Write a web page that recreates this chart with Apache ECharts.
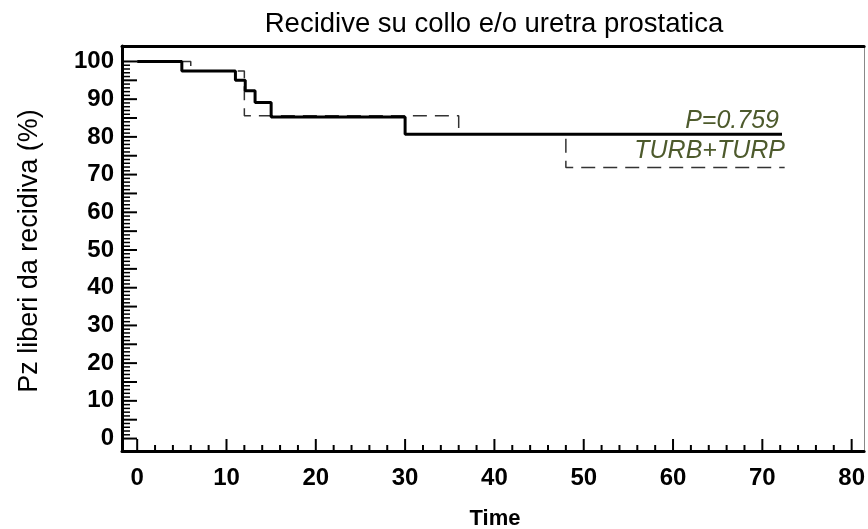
<!DOCTYPE html>
<html>
<head>
<meta charset="utf-8">
<script src="https://cdn.jsdelivr.net/npm/echarts@6/dist/echarts.min.js"></script>
<style>
  html, body { margin: 0; padding: 0; background: #fff; }
  #main { width: 868px; height: 529px; }
</style>
</head>
<body>
<div id="main"></div>
<script>
// Kaplan-Meier steps: [time, % free of relapse]
var solidTimes = [0, 5, 11, 12.1, 13.2, 15, 30, 72.2];
var solidValues = [100, 97.5, 95.0, 92.2, 89.1, 85.3, 80.7, 80.7];
var dashedTimes = [0, 6, 12, 36, 48, 72.5];
var dashedValues = [100, 97.5, 85.6, 80.7, 71.9, 71.9];

var xLabels = [0, 10, 20, 30, 40, 50, 60, 70, 80];
var yLabels = [0, 10, 20, 30, 40, 50, 60, 70, 80, 90, 100];

var titleText = 'Recidive su collo e/o uretra prostatica';
var yName = 'Pz liberi da recidiva (%)';
var xName = 'Time';
var pText = 'P=0.759';
var groupText = 'TURB+TURP';

var X_MIN = -1.7, X_MAX = 81.4;
var Y_MIN = -3.3, Y_MAX = 104.1;
var FONT = '"Liberation Sans", Arial, sans-serif';

function pairs(xs, ys) {
  return xs.map(function (x, i) { return [x, ys[i]]; });
}
// tick marks: [value, length in px]
function tickList(from, to, step, bigEvery, bigLen, smallLen) {
  var out = [];
  for (var v = from; v <= to + 1e-9; v += step) {
    out.push([v, v % bigEvery === 0 ? bigLen : smallLen]);
  }
  return out;
}
var xTicks = tickList(0, 80, 2, 10, 12, 6);
var yTicks = tickList(0, 100, 1, 5, 15, 8);

var lineBlack = { color: '#000', width: 3 };
var labelFont = { color: '#000', fontFamily: FONT, fontWeight: 'bold', fontSize: 24 };

var myChart = echarts.init(document.getElementById('main'));
myChart.setOption({
  animation: false,
  backgroundColor: '#fff',
  grid: { left: 122, top: 46, width: 743, height: 405 },
  xAxis: [
    {
      type: 'value', position: 'bottom', min: X_MIN, max: X_MAX,
      axisLine: { show: true, onZero: false, lineStyle: lineBlack },
      axisTick: { show: false },
      axisLabel: Object.assign({ show: true, customValues: xLabels, margin: 15 }, labelFont),
      splitLine: { show: false }
    },
    {
      // top frame
      type: 'value', position: 'top', min: X_MIN, max: X_MAX,
      axisLine: { show: true, onZero: false, lineStyle: lineBlack },
      axisTick: { show: false }, axisLabel: { show: false }, splitLine: { show: false }
    }
  ],
  yAxis: [
    {
      type: 'value', position: 'left', min: Y_MIN, max: Y_MAX,
      axisLine: { show: true, onZero: false, lineStyle: lineBlack },
      axisTick: { show: false },
      axisLabel: Object.assign({ show: true, customValues: yLabels, margin: 8 }, labelFont),
      splitLine: { show: false }
    },
    {
      // right frame
      type: 'value', position: 'right', min: Y_MIN, max: Y_MAX,
      axisLine: { show: true, onZero: false, lineStyle: { color: '#888', width: 1 } },
      axisTick: { show: false }, axisLabel: { show: false }, splitLine: { show: false }
    }
  ],
  series: [
    {
      // inward ticks on the time axis
      type: 'custom', xAxisIndex: 0, yAxisIndex: 0, silent: true, clip: false,
      data: xTicks,
      renderItem: function (params, api) {
        var p = api.coord([api.value(0), Y_MIN]);
        return {
          type: 'line',
          shape: { x1: p[0], y1: p[1], x2: p[0], y2: p[1] - api.value(1) },
          style: { stroke: '#000', lineWidth: 2 }
        };
      }
    },
    {
      // inward ticks on the percentage axis
      type: 'custom', xAxisIndex: 0, yAxisIndex: 0, silent: true, clip: false,
      data: yTicks,
      renderItem: function (params, api) {
        var p = api.coord([X_MIN, api.value(0)]);
        var len = api.value(1);
        return {
          type: 'line',
          shape: { x1: p[0], y1: p[1], x2: p[0] + len, y2: p[1] },
          style: { stroke: '#000', lineWidth: len > 10 ? 2 : 1.5 }
        };
      }
    },
    {
      type: 'line', step: 'end', xAxisIndex: 0, yAxisIndex: 0,
      data: pairs(dashedTimes, dashedValues),
      showSymbol: false, symbol: 'none',
      lineStyle: { color: '#333', width: 1.5, type: [14, 8] }
    },
    {
      type: 'line', step: 'end', xAxisIndex: 0, yAxisIndex: 0,
      data: pairs(solidTimes, solidValues),
      showSymbol: false, symbol: 'none',
      lineStyle: { color: '#000', width: 3 }
    }
  ],
  graphic: [
    {
      type: 'text', x: 494, y: 24,
      style: { text: titleText, fill: '#000', font: '27.5px ' + FONT, align: 'center', verticalAlign: 'middle' }
    },
    {
      type: 'text', x: 30, y: 251, rotation: Math.PI / 2,
      style: { text: yName, fill: '#000', font: '27px ' + FONT, align: 'center', verticalAlign: 'middle' }
    },
    {
      type: 'text', x: 495, y: 519,
      style: { text: xName, fill: '#000', font: 'bold 22px ' + FONT, align: 'center', verticalAlign: 'middle' }
    },
    {
      type: 'text', x: 779, y: 121,
      style: { text: pText, fill: '#4d5a2c', font: 'italic 25px ' + FONT, align: 'right', verticalAlign: 'middle' }
    },
    {
      type: 'text', x: 785, y: 151,
      style: { text: groupText, fill: '#4d5a2c', font: 'italic 25px ' + FONT, align: 'right', verticalAlign: 'middle' }
    }
  ]
});
window.onresize = function () {
  myChart.resize();
};
</script>
</body>
</html>
